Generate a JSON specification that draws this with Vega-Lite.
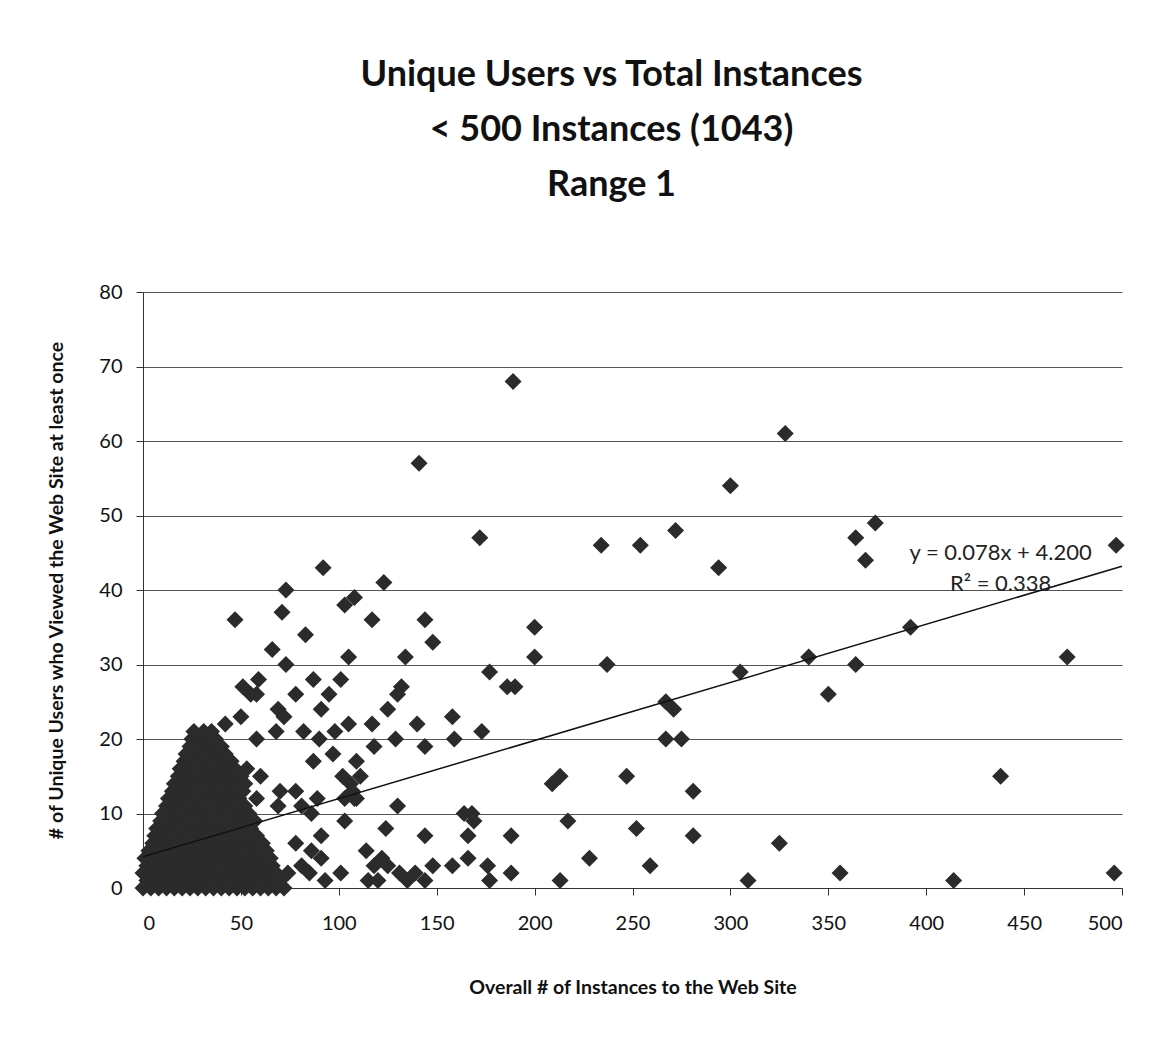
{
  "$schema": "https://vega.github.io/schema/vega-lite/v6.json",
  "width": 979,
  "height": 596,
  "autosize": "none",
  "padding": {"left": 143, "top": 292, "right": 50, "bottom": 150},
  "background": "white",
  "title": {
    "text": ["Unique Users vs Total Instances", "< 500 Instances (1043)", "Range 1"],
    "font": "Lato",
    "fontSize": 36,
    "fontWeight": "bold",
    "color": "#111111",
    "anchor": "middle",
    "dx": -21,
    "lineHeight": 55,
    "offset": 78
  },
  "config": {
    "view": {"stroke": null},
    "axis": {
      "labelFont": "Lato",
      "labelFontSize": 20,
      "labelColor": "#111111",
      "titleFont": "Lato",
      "titleFontSize": 19.5,
      "titleFontWeight": "bold",
      "titleColor": "#111111",
      "domainColor": "#333333",
      "tickColor": "#333333",
      "gridColor": "#555555",
      "gridWidth": 1,
      "tickSize": 7
    }
  },
  "datasets": {
    "points": [
      {"instances":0,"users":0},{"instances":4,"users":0},{"instances":8,"users":0},{"instances":12,"users":0},{"instances":16,"users":0},{"instances":20,"users":0},{"instances":24,"users":0},{"instances":28,"users":0},{"instances":32,"users":0},{"instances":36,"users":0},{"instances":40,"users":0},{"instances":44,"users":0},{"instances":48,"users":0},{"instances":52,"users":0},{"instances":56,"users":0},{"instances":60,"users":0},{"instances":64,"users":0},{"instances":68,"users":0},{"instances":72,"users":0},
      {"instances":2,"users":1},{"instances":6,"users":1},{"instances":10,"users":1},{"instances":14,"users":1},{"instances":18,"users":1},{"instances":22,"users":1},{"instances":26,"users":1},{"instances":30,"users":1},{"instances":34,"users":1},{"instances":38,"users":1},{"instances":42,"users":1},{"instances":46,"users":1},{"instances":50,"users":1},{"instances":54,"users":1},{"instances":58,"users":1},{"instances":62,"users":1},{"instances":66,"users":1},{"instances":70,"users":1},
      {"instances":0,"users":2},{"instances":4,"users":2},{"instances":8,"users":2},{"instances":12,"users":2},{"instances":16,"users":2},{"instances":20,"users":2},{"instances":24,"users":2},{"instances":28,"users":2},{"instances":32,"users":2},{"instances":36,"users":2},{"instances":40,"users":2},{"instances":44,"users":2},{"instances":48,"users":2},{"instances":52,"users":2},{"instances":56,"users":2},{"instances":60,"users":2},{"instances":64,"users":2},{"instances":68,"users":2},
      {"instances":2,"users":3},{"instances":6,"users":3},{"instances":10,"users":3},{"instances":14,"users":3},{"instances":18,"users":3},{"instances":22,"users":3},{"instances":26,"users":3},{"instances":30,"users":3},{"instances":34,"users":3},{"instances":38,"users":3},{"instances":42,"users":3},{"instances":46,"users":3},{"instances":50,"users":3},{"instances":54,"users":3},{"instances":58,"users":3},{"instances":62,"users":3},{"instances":66,"users":3},
      {"instances":1,"users":4},{"instances":5,"users":4},{"instances":9,"users":4},{"instances":13,"users":4},{"instances":17,"users":4},{"instances":21,"users":4},{"instances":25,"users":4},{"instances":29,"users":4},{"instances":33,"users":4},{"instances":37,"users":4},{"instances":41,"users":4},{"instances":45,"users":4},{"instances":49,"users":4},{"instances":53,"users":4},{"instances":57,"users":4},{"instances":61,"users":4},{"instances":65,"users":4},
      {"instances":3,"users":5},{"instances":7,"users":5},{"instances":11,"users":5},{"instances":15,"users":5},{"instances":19,"users":5},{"instances":23,"users":5},{"instances":27,"users":5},{"instances":31,"users":5},{"instances":35,"users":5},{"instances":39,"users":5},{"instances":43,"users":5},{"instances":47,"users":5},{"instances":51,"users":5},{"instances":55,"users":5},{"instances":59,"users":5},{"instances":63,"users":5},
      {"instances":5,"users":6},{"instances":9,"users":6},{"instances":13,"users":6},{"instances":17,"users":6},{"instances":21,"users":6},{"instances":25,"users":6},{"instances":29,"users":6},{"instances":33,"users":6},{"instances":37,"users":6},{"instances":41,"users":6},{"instances":45,"users":6},{"instances":49,"users":6},{"instances":53,"users":6},{"instances":57,"users":6},{"instances":61,"users":6},
      {"instances":6,"users":7},{"instances":10,"users":7},{"instances":14,"users":7},{"instances":18,"users":7},{"instances":22,"users":7},{"instances":26,"users":7},{"instances":30,"users":7},{"instances":34,"users":7},{"instances":38,"users":7},{"instances":42,"users":7},{"instances":46,"users":7},{"instances":50,"users":7},{"instances":54,"users":7},{"instances":58,"users":7},
      {"instances":7,"users":8},{"instances":11,"users":8},{"instances":15,"users":8},{"instances":19,"users":8},{"instances":23,"users":8},{"instances":27,"users":8},{"instances":31,"users":8},{"instances":35,"users":8},{"instances":39,"users":8},{"instances":43,"users":8},{"instances":47,"users":8},{"instances":51,"users":8},{"instances":55,"users":8},
      {"instances":9,"users":9},{"instances":13,"users":9},{"instances":17,"users":9},{"instances":21,"users":9},{"instances":25,"users":9},{"instances":29,"users":9},{"instances":33,"users":9},{"instances":37,"users":9},{"instances":41,"users":9},{"instances":45,"users":9},{"instances":49,"users":9},{"instances":53,"users":9},{"instances":57,"users":9},
      {"instances":10,"users":10},{"instances":14,"users":10},{"instances":18,"users":10},{"instances":22,"users":10},{"instances":26,"users":10},{"instances":30,"users":10},{"instances":34,"users":10},{"instances":38,"users":10},{"instances":42,"users":10},{"instances":46,"users":10},{"instances":50,"users":10},{"instances":54,"users":10},
      {"instances":12,"users":11},{"instances":16,"users":11},{"instances":20,"users":11},{"instances":24,"users":11},{"instances":28,"users":11},{"instances":32,"users":11},{"instances":36,"users":11},{"instances":40,"users":11},{"instances":44,"users":11},{"instances":48,"users":11},{"instances":52,"users":11},
      {"instances":13,"users":12},{"instances":17,"users":12},{"instances":21,"users":12},{"instances":25,"users":12},{"instances":29,"users":12},{"instances":33,"users":12},{"instances":37,"users":12},{"instances":41,"users":12},{"instances":45,"users":12},{"instances":49,"users":12},
      {"instances":15,"users":13},{"instances":19,"users":13},{"instances":23,"users":13},{"instances":27,"users":13},{"instances":31,"users":13},{"instances":35,"users":13},{"instances":39,"users":13},{"instances":43,"users":13},{"instances":47,"users":13},{"instances":51,"users":13},
      {"instances":16,"users":14},{"instances":20,"users":14},{"instances":24,"users":14},{"instances":28,"users":14},{"instances":32,"users":14},{"instances":36,"users":14},{"instances":40,"users":14},{"instances":44,"users":14},{"instances":48,"users":14},{"instances":52,"users":14},
      {"instances":18,"users":15},{"instances":22,"users":15},{"instances":26,"users":15},{"instances":30,"users":15},{"instances":34,"users":15},{"instances":38,"users":15},{"instances":42,"users":15},{"instances":46,"users":15},{"instances":50,"users":15},
      {"instances":19,"users":16},{"instances":23,"users":16},{"instances":27,"users":16},{"instances":31,"users":16},{"instances":35,"users":16},{"instances":39,"users":16},{"instances":43,"users":16},{"instances":47,"users":16},
      {"instances":21,"users":17},{"instances":25,"users":17},{"instances":29,"users":17},{"instances":33,"users":17},{"instances":37,"users":17},{"instances":41,"users":17},{"instances":45,"users":17},
      {"instances":22,"users":18},{"instances":26,"users":18},{"instances":30,"users":18},{"instances":34,"users":18},{"instances":38,"users":18},{"instances":42,"users":18},
      {"instances":24,"users":19},{"instances":28,"users":19},{"instances":32,"users":19},{"instances":36,"users":19},{"instances":40,"users":19},
      {"instances":25,"users":20},{"instances":29,"users":20},{"instances":33,"users":20},{"instances":37,"users":20},
      {"instances":26,"users":21},{"instances":31,"users":21},{"instances":35,"users":21},
      {"instances":73,"users":40},{"instances":71,"users":37},{"instances":47,"users":36},{"instances":66,"users":32},{"instances":73,"users":30},{"instances":59,"users":28},{"instances":51,"users":27},{"instances":55,"users":26},{"instances":58,"users":26},{"instances":69,"users":24},{"instances":72,"users":23},{"instances":50,"users":23},{"instances":42,"users":22},{"instances":58,"users":20},{"instances":68,"users":21},{"instances":60,"users":15},{"instances":53,"users":16},{"instances":70,"users":13},{"instances":58,"users":12},{"instances":69,"users":11},{"instances":66,"users":2},{"instances":74,"users":2},
      {"instances":92,"users":43},{"instances":123,"users":41},{"instances":108,"users":39},{"instances":103,"users":38},{"instances":117,"users":36},{"instances":144,"users":36},{"instances":148,"users":33},{"instances":83,"users":34},{"instances":105,"users":31},{"instances":134,"users":31},{"instances":87,"users":28},{"instances":101,"users":28},{"instances":78,"users":26},{"instances":95,"users":26},{"instances":132,"users":27},{"instances":130,"users":26},{"instances":125,"users":24},{"instances":91,"users":24},{"instances":82,"users":21},{"instances":90,"users":20},{"instances":98,"users":21},{"instances":105,"users":22},{"instances":117,"users":22},{"instances":140,"users":22},{"instances":118,"users":19},{"instances":129,"users":20},{"instances":144,"users":19},{"instances":87,"users":17},{"instances":97,"users":18},{"instances":109,"users":17},{"instances":102,"users":15},{"instances":106,"users":14},{"instances":111,"users":15},{"instances":107,"users":13},{"instances":109,"users":12},{"instances":78,"users":13},{"instances":89,"users":12},{"instances":81,"users":11},{"instances":86,"users":10},{"instances":103,"users":12},{"instances":108,"users":12},{"instances":130,"users":11},{"instances":103,"users":9},{"instances":124,"users":8},{"instances":91,"users":7},{"instances":144,"users":7},{"instances":78,"users":6},{"instances":86,"users":5},{"instances":91,"users":4},{"instances":114,"users":5},{"instances":81,"users":3},{"instances":85,"users":2},{"instances":93,"users":1},{"instances":101,"users":2},{"instances":118,"users":3},{"instances":122,"users":4},{"instances":125,"users":3},{"instances":115,"users":1},{"instances":120,"users":1},{"instances":131,"users":2},{"instances":135,"users":1},{"instances":139,"users":2},{"instances":144,"users":1},{"instances":148,"users":3},
      {"instances":141,"users":57},{"instances":189,"users":68},{"instances":300,"users":54},{"instances":172,"users":47},{"instances":234,"users":46},{"instances":254,"users":46},{"instances":272,"users":48},{"instances":294,"users":43},{"instances":200,"users":35},{"instances":200,"users":31},{"instances":177,"users":29},{"instances":237,"users":30},{"instances":305,"users":29},{"instances":186,"users":27},{"instances":190,"users":27},{"instances":267,"users":25},{"instances":271,"users":24},{"instances":158,"users":23},{"instances":159,"users":20},{"instances":173,"users":21},{"instances":267,"users":20},{"instances":275,"users":20},{"instances":209,"users":14},{"instances":213,"users":15},{"instances":247,"users":15},{"instances":281,"users":13},{"instances":164,"users":10},{"instances":168,"users":10},{"instances":169,"users":9},{"instances":217,"users":9},{"instances":166,"users":7},{"instances":188,"users":7},{"instances":252,"users":8},{"instances":281,"users":7},{"instances":158,"users":3},{"instances":166,"users":4},{"instances":176,"users":3},{"instances":177,"users":1},{"instances":188,"users":2},{"instances":228,"users":4},{"instances":259,"users":3},{"instances":213,"users":1},{"instances":309,"users":1},
      {"instances":328,"users":61},{"instances":364,"users":47},{"instances":374,"users":49},{"instances":369,"users":44},{"instances":497,"users":46},{"instances":392,"users":35},{"instances":340,"users":31},{"instances":364,"users":30},{"instances":350,"users":26},{"instances":472,"users":31},{"instances":438,"users":15},{"instances":325,"users":6},{"instances":356,"users":2},{"instances":414,"users":1},{"instances":496,"users":2}
    ],
    "trend": [
      {"instances":0,"users":4.2},
      {"instances":500,"users":43.2}
    ],
    "equation": [
      {"instances":438,"users":45,"label":"y = 0.078x + 4.200"},
      {"instances":438,"users":40.8,"label":"R² = 0.338"}
    ]
  },
  "layer": [
    {
      "data": {"name": "points"},
      "mark": {"type": "point", "shape": "diamond", "filled": true, "size": 290, "color": "#2b2b2b", "opacity": 1, "strokeWidth": 0},
      "encoding": {
        "x": {
          "field": "instances", "type": "quantitative",
          "scale": {"domain": [0, 500], "nice": false},
          "axis": {"title": "Overall # of Instances to the Web Site", "values": [0,50,100,150,200,250,300,350,400,450,500], "grid": false, "labelPadding": 18, "titlePadding": 45}
        },
        "y": {
          "field": "users", "type": "quantitative",
          "scale": {"domain": [0, 80], "nice": false},
          "axis": {"title": "# of Unique Users who Viewed the Web Site at least once", "values": [0,10,20,30,40,50,60,70,80], "grid": true, "labelPadding": 14, "titlePadding": 32}
        }
      }
    },
    {
      "data": {"name": "trend"},
      "mark": {"type": "line", "color": "#111111", "strokeWidth": 1.5},
      "encoding": {
        "x": {"field": "instances", "type": "quantitative"},
        "y": {"field": "users", "type": "quantitative"}
      }
    },
    {
      "data": {"name": "equation"},
      "mark": {"type": "text", "font": "Lato", "fontSize": 22, "color": "#222222", "align": "center", "baseline": "middle"},
      "encoding": {
        "x": {"field": "instances", "type": "quantitative"},
        "y": {"field": "users", "type": "quantitative"},
        "text": {"field": "label"}
      }
    }
  ]
}
